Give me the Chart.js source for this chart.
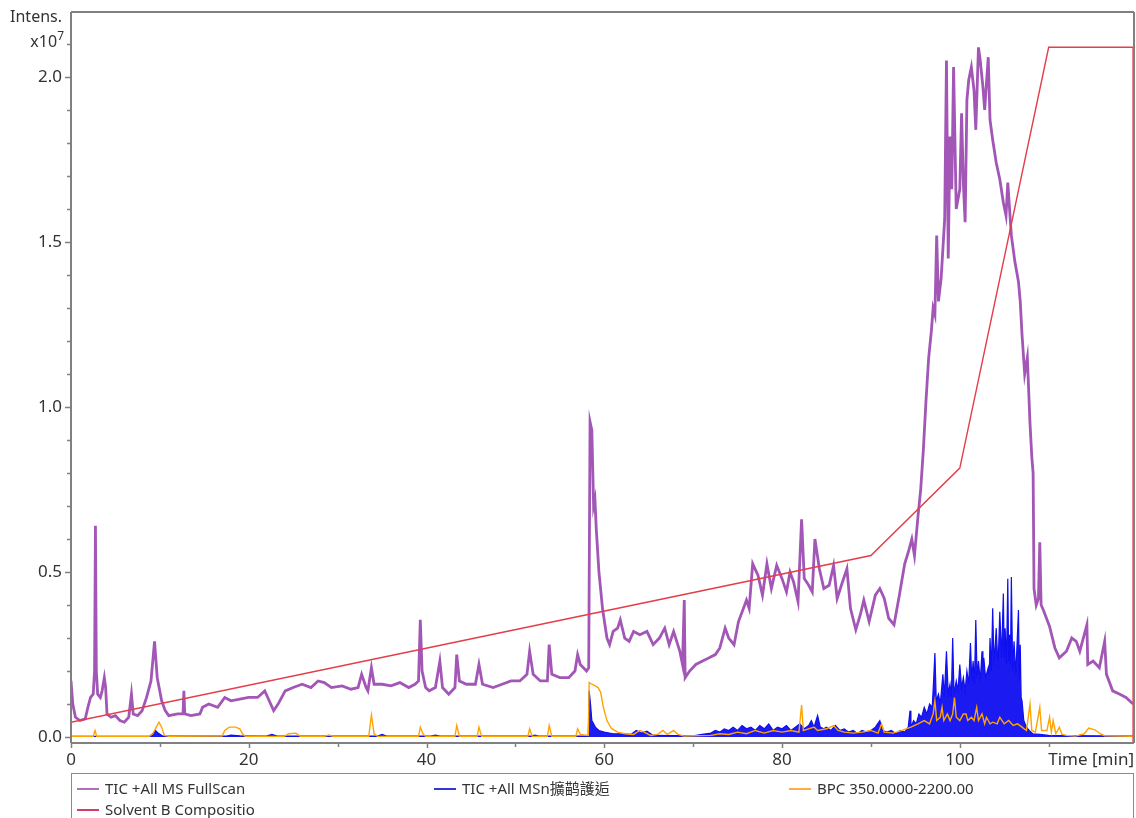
<!DOCTYPE html>
<html><head><meta charset="utf-8">
<script src="https://cdn.jsdelivr.net/npm/chart.js@4.4.1/dist/chart.umd.min.js"></script>
<style>
html,body{margin:0;padding:0;background:#fff;}
#wrap{position:relative;width:1136px;height:818px;overflow:hidden;font-family:"Noto Sans",sans-serif;color:#333;}
#c{position:absolute;left:0;top:0;}
.lbl{position:absolute;font-size:16px;line-height:18px;color:#333;white-space:nowrap;}
#legend{position:absolute;left:71px;top:773px;width:1063px;height:60px;border:1px solid #8a8a8a;box-sizing:border-box;}
.item{position:absolute;font-size:15px;line-height:18px;white-space:nowrap;color:#333;}
.item i{display:inline-block;width:22px;height:0;border-top:2px solid;vertical-align:middle;margin-right:6px;position:relative;top:-1px;}
.cjk{font-family:"Noto Sans CJK TC","Noto Sans CJK SC",sans-serif;}
</style></head>
<body>
<div id="wrap">
<canvas id="c" width="1136" height="818"></canvas>
<div class="lbl" style="left:0;width:62px;text-align:right;top:7px;">Intens.</div>
<div class="lbl" style="left:0;width:64px;text-align:right;top:32px;">x10<sup style="font-size:12px;vertical-align:7px;line-height:0;">7</sup></div>
<div class="lbl" style="right:2px;top:750px;font-size:17px;">Time [min]</div>
<div id="legend"></div>
</div>
<script>
// ---- data (time in min, intensity in x10^7) ----
const xTickLabels = [0, 20, 40, 60, 80, 100];
const xMinorTicks = [10, 30, 50, 70, 90, 110];
const yTickLabels = [0.0, 0.5, 1.0, 1.5, 2.0];
const yMinorTicks = [0.1,0.2,0.3,0.4,0.6,0.7,0.8,0.9,1.1,1.2,1.3,1.4,1.6,1.7,1.8,1.9,2.1];

const seriesNames = ["TIC +All MS FullScan", "TIC +All MSn擴鹋護逅", "BPC 350.0000-2200.00", "Solvent B Compositio"];

const solventB = [[0,0.045],[90,0.55],[100,0.815],[110,2.09],[119.5,2.09],[119.5,-0.02]];

const ticFullScan = [[0,0.17],[0.2,0.10],[0.5,0.06],[1.0,0.05],[1.6,0.055],[1.9,0.09],[2.2,0.12],[2.5,0.13],[2.65,0.2],[2.75,0.64],[2.85,0.2],[3.0,0.13],[3.3,0.12],[3.5,0.14],[3.75,0.18],[3.9,0.15],[4.05,0.07],[4.5,0.06],[5.0,0.065],[5.5,0.05],[6.0,0.045],[6.5,0.06],[6.8,0.13],[7.0,0.07],[7.5,0.065],[8.0,0.08],[8.5,0.12],[9.0,0.17],[9.4,0.29],[9.7,0.18],[10.2,0.11],[10.6,0.08],[11.0,0.065],[12.0,0.07],[12.6,0.07],[12.7,0.14],[12.8,0.07],[13.5,0.065],[14.5,0.07],[14.8,0.09],[15.5,0.1],[16.5,0.09],[17.3,0.12],[18.0,0.11],[19.0,0.115],[20.0,0.12],[21.0,0.12],[21.8,0.14],[22.3,0.11],[22.8,0.08],[23.3,0.1],[24.1,0.14],[25.0,0.15],[26.0,0.16],[27.0,0.15],[27.8,0.17],[28.5,0.165],[29.3,0.15],[30.5,0.155],[31.5,0.145],[32.3,0.15],[32.7,0.19],[33.2,0.15],[33.4,0.14],[33.8,0.21],[34.1,0.16],[35,0.16],[36,0.155],[37,0.165],[38,0.15],[38.7,0.16],[39.1,0.17],[39.3,0.355],[39.5,0.2],[39.9,0.15],[40.3,0.14],[41.0,0.15],[41.5,0.23],[41.8,0.15],[42.5,0.13],[43.2,0.15],[43.4,0.25],[43.7,0.17],[44.5,0.16],[45.5,0.16],[45.9,0.22],[46.3,0.16],[47.5,0.15],[48.5,0.16],[49.5,0.17],[50.5,0.17],[51.3,0.19],[51.6,0.26],[52.0,0.19],[52.8,0.17],[53.6,0.17],[53.8,0.28],[54.1,0.19],[55,0.18],[56,0.18],[56.7,0.2],[57.0,0.25],[57.3,0.22],[58.0,0.2],[58.25,0.21],[58.4,0.955],[58.6,0.93],[58.8,0.7],[58.95,0.72],[59.1,0.63],[59.4,0.5],[59.8,0.39],[60.3,0.3],[60.6,0.28],[61.0,0.32],[61.5,0.33],[61.8,0.355],[62.3,0.3],[62.8,0.29],[63.3,0.32],[64.0,0.31],[64.8,0.32],[65.5,0.28],[66.2,0.3],[66.8,0.33],[67.3,0.28],[67.8,0.32],[68.5,0.26],[68.8,0.22],[69.0,0.415],[69.1,0.18],[69.6,0.2],[70.3,0.22],[71.0,0.23],[71.8,0.24],[72.5,0.25],[73.0,0.27],[73.6,0.33],[74.0,0.3],[74.6,0.28],[75.1,0.35],[75.8,0.4],[76.0,0.415],[76.3,0.39],[76.7,0.525],[77.3,0.49],[77.8,0.43],[78.3,0.525],[78.8,0.45],[79.4,0.52],[80.0,0.48],[80.5,0.44],[80.9,0.5],[81.3,0.47],[81.8,0.41],[82.2,0.66],[82.5,0.48],[83.0,0.46],[83.4,0.44],[83.7,0.6],[84.2,0.51],[84.7,0.45],[85.3,0.46],[85.8,0.52],[86.2,0.42],[86.8,0.47],[87.3,0.51],[87.7,0.39],[88.3,0.325],[88.8,0.37],[89.2,0.415],[89.8,0.35],[90.5,0.43],[91.0,0.45],[91.5,0.42],[92.0,0.36],[92.6,0.34],[93.2,0.43],[93.8,0.525],[94.2,0.56],[94.6,0.6],[94.9,0.55],[95.3,0.67],[95.6,0.75],[95.9,0.87],[96.2,1.02],[96.5,1.15],[96.8,1.23],[97.0,1.3],[97.2,1.28],[97.4,1.52],[97.6,1.32],[97.9,1.39],[98.3,1.57],[98.5,2.05],[98.7,1.45],[98.9,1.82],[99.1,1.66],[99.3,2.03],[99.6,1.6],[100.0,1.66],[100.2,1.89],[100.4,1.68],[100.6,1.56],[100.8,1.93],[101.0,1.99],[101.3,2.03],[101.6,1.96],[101.8,1.84],[102.1,2.09],[102.3,2.05],[102.6,1.97],[102.8,1.9],[103.2,2.06],[103.4,1.87],[103.7,1.81],[104.1,1.74],[104.5,1.69],[104.9,1.62],[105.2,1.58],[105.4,1.68],[105.8,1.52],[106.2,1.44],[106.6,1.38],[106.8,1.32],[107.0,1.22],[107.3,1.1],[107.6,1.15],[107.9,0.95],[108.1,0.85],[108.25,0.8],[108.35,0.45],[108.6,0.4],[108.85,0.42],[109.0,0.59],[109.15,0.4],[109.4,0.385],[110.1,0.335],[110.7,0.27],[111.2,0.24],[112.0,0.26],[112.6,0.3],[113.1,0.29],[113.5,0.26],[114.3,0.34],[114.4,0.22],[115.0,0.23],[115.7,0.21],[116.3,0.29],[116.5,0.19],[117.2,0.14],[118.0,0.13],[118.7,0.12],[119.5,0.1]];

const ticMSn = [[0,0.002],[8.8,0.002],[9.2,0.01],[9.5,0.02],[9.8,0.012],[10.3,0.003],[17.5,0.003],[18.0,0.006],[19.0,0.004],[22.0,0.003],[22.6,0.008],[23.2,0.003],[34.5,0.003],[35.0,0.008],[35.5,0.003],[40.5,0.003],[41.0,0.006],[41.5,0.003],[51.8,0.003],[52.2,0.006],[52.6,0.003],[58.2,0.003],[58.3,0.14],[58.45,0.1],[58.6,0.05],[58.8,0.04],[59.0,0.03],[59.4,0.02],[60.0,0.015],[61.0,0.01],[62.0,0.01],[63.0,0.008],[63.6,0.02],[64.2,0.012],[64.8,0.018],[65.5,0.005],[70.0,0.004],[71.0,0.008],[72.0,0.012],[72.5,0.02],[73.0,0.015],[73.5,0.025],[74.0,0.02],[74.5,0.03],[75.0,0.02],[75.5,0.035],[76.0,0.025],[76.5,0.03],[77.0,0.02],[77.5,0.035],[78.0,0.025],[78.5,0.04],[79.0,0.02],[79.5,0.03],[80.0,0.025],[80.5,0.035],[81.0,0.02],[81.5,0.03],[82.0,0.04],[82.5,0.025],[83.0,0.035],[83.3,0.05],[83.6,0.03],[84.0,0.065],[84.3,0.03],[84.7,0.025],[85.0,0.03],[85.5,0.02],[86.0,0.035],[86.5,0.02],[87.0,0.025],[87.5,0.015],[88.0,0.02],[88.5,0.01],[89.0,0.02],[89.5,0.015],[90.0,0.02],[90.5,0.03],[91.0,0.05],[91.3,0.02],[91.8,0.015],[92.3,0.02],[92.8,0.01],[93.3,0.02],[93.8,0.015],[94.2,0.03],[94.4,0.08],[94.5,0.03],[94.8,0.05],[95.1,0.04],[95.4,0.07],[95.7,0.06],[96.0,0.09],[96.3,0.07],[96.6,0.10],[96.9,0.09],[97.05,0.17],[97.2,0.255],[97.35,0.11],[97.6,0.13],[97.8,0.10],[98.1,0.19],[98.25,0.12],[98.5,0.26],[98.7,0.13],[98.9,0.16],[99.05,0.12],[99.2,0.30],[99.35,0.13],[99.6,0.17],[99.8,0.14],[100.0,0.22],[100.2,0.15],[100.4,0.18],[100.6,0.14],[100.8,0.20],[101.0,0.16],[101.2,0.285],[101.35,0.17],[101.5,0.23],[101.65,0.16],[101.8,0.355],[101.95,0.18],[102.1,0.23],[102.3,0.17],[102.5,0.26],[102.6,0.19],[102.7,0.24],[102.9,0.18],[103.2,0.21],[103.3,0.17],[103.4,0.30],[103.55,0.20],[103.7,0.39],[103.85,0.22],[104.1,0.33],[104.3,0.21],[104.5,0.38],[104.7,0.24],[104.9,0.435],[105.0,0.24],[105.1,0.33],[105.25,0.22],[105.4,0.48],[105.5,0.23],[105.6,0.31],[105.7,0.22],[105.8,0.485],[105.95,0.20],[106.1,0.29],[106.3,0.19],[106.6,0.385],[106.7,0.17],[106.8,0.28],[106.9,0.12],[107.0,0.11],[107.2,0.05],[107.5,0.03],[107.8,0.02],[108.2,0.01],[109.0,0.008],[110.0,0.005],[115.0,0.004],[119.5,0.003]];

const bpc = [[0,0.002],[2.5,0.002],[2.7,0.02],[2.9,0.002],[8.8,0.002],[9.2,0.01],[9.6,0.03],[9.9,0.045],[10.2,0.03],[10.5,0.005],[11.0,0.002],[17.0,0.003],[17.3,0.02],[17.8,0.03],[18.5,0.03],[19.0,0.025],[19.3,0.01],[19.6,0.002],[24.0,0.002],[24.5,0.01],[25.3,0.012],[25.8,0.002],[28.5,0.002],[29.0,0.006],[29.5,0.002],[33.5,0.002],[33.8,0.067],[34.1,0.01],[34.5,0.002],[39.1,0.002],[39.3,0.03],[39.6,0.01],[39.9,0.002],[43.2,0.002],[43.4,0.035],[43.7,0.002],[45.7,0.002],[45.9,0.03],[46.2,0.002],[51.4,0.002],[51.6,0.025],[51.9,0.002],[53.6,0.002],[53.8,0.035],[54.1,0.002],[56.8,0.002],[57.0,0.025],[57.3,0.008],[58.2,0.005],[58.3,0.165],[58.6,0.16],[59.0,0.155],[59.3,0.15],[59.6,0.135],[59.9,0.09],[60.3,0.05],[60.8,0.026],[61.5,0.015],[62.3,0.01],[63.3,0.008],[64.0,0.02],[64.5,0.015],[65.2,0.005],[66.0,0.008],[66.6,0.02],[67.1,0.008],[67.8,0.02],[68.3,0.008],[69.0,0.003],[72.0,0.005],[73.0,0.01],[74.0,0.008],[75.0,0.015],[76.0,0.01],[77.0,0.02],[78.0,0.012],[79.0,0.02],[80.0,0.015],[81.0,0.02],[81.9,0.015],[82.2,0.097],[82.4,0.02],[83.0,0.025],[83.6,0.03],[84.0,0.02],[85.0,0.025],[85.8,0.035],[86.3,0.02],[87.0,0.015],[88.0,0.012],[89.0,0.015],[90.0,0.02],[90.8,0.012],[91.2,0.04],[91.5,0.015],[92.5,0.012],[93.5,0.02],[94.5,0.03],[95.3,0.04],[96.0,0.05],[96.6,0.04],[97.0,0.07],[97.2,0.11],[97.4,0.05],[97.8,0.06],[98.0,0.09],[98.2,0.05],[98.6,0.07],[98.9,0.05],[99.2,0.07],[99.4,0.12],[99.6,0.06],[100.0,0.05],[100.4,0.07],[100.7,0.07],[100.9,0.05],[101.3,0.06],[101.6,0.05],[101.9,0.09],[102.1,0.05],[102.5,0.07],[102.8,0.04],[103.0,0.06],[103.4,0.04],[103.7,0.045],[104.2,0.04],[104.5,0.06],[105.0,0.04],[105.5,0.05],[106.0,0.035],[106.5,0.04],[107.0,0.03],[107.5,0.02],[107.9,0.10],[108.1,0.02],[108.5,0.015],[109.0,0.09],[109.2,0.02],[109.8,0.02],[110.1,0.06],[110.3,0.015],[110.5,0.05],[110.8,0.01],[111.2,0.03],[111.5,0.008],[112.0,0.005],[113.0,0.003],[114.0,0.01],[114.5,0.027],[115.2,0.022],[115.8,0.01],[116.3,0.004],[119.5,0.002]];

const colors = {tic:'#a256b6', msn:'#0f0ff0', bpc:'#ffa300', solvent:'#e33e4a'};

// ---- legend (HTML) ----
const legendLayout = [
  {name:seriesNames[0], color:'#b070b8', left:5, top:5},
  {name:seriesNames[1], color:'#3535d8', left:362, top:5},
  {name:seriesNames[2], color:'#ffad45', left:717, top:5},
  {name:seriesNames[3], color:'#d83a66', left:5, top:26}
];
const lg = document.getElementById('legend');
legendLayout.forEach(it => {
  const d = document.createElement('div');
  d.className = 'item';
  d.style.left = it.left + 'px'; d.style.top = it.top + 'px';
  const i = document.createElement('i'); i.style.borderTopColor = it.color;
  d.appendChild(i);
  const m = it.name.match(/^([^\u3400-\u9fff]*)([\u3400-\u9fff]*)$/);
  d.appendChild(document.createTextNode(m ? m[1] : it.name));
  if (m && m[2]) { const s = document.createElement('span'); s.className='cjk'; s.textContent = m[2]; d.appendChild(s); }
  lg.appendChild(d);
});

// ---- chart ----
const toXY = arr => arr.map(p => ({x:p[0], y:p[1]}));

const framePlugin = {
  id:'frame',
  afterDraw(chart){
    const {ctx, chartArea:a, scales:{x, y}} = chart;
    ctx.save();
    ctx.strokeStyle = '#808080';
    ctx.lineWidth = 2;
    ctx.beginPath();
    ctx.moveTo(a.left, a.top); ctx.lineTo(a.right, a.top);
    ctx.moveTo(a.right, a.top); ctx.lineTo(a.right, a.bottom);
    ctx.moveTo(a.left, a.top); ctx.lineTo(a.left, a.bottom);
    ctx.moveTo(a.left, a.bottom); ctx.lineTo(a.right, a.bottom);
    ctx.stroke();
    ctx.lineWidth = 1.5;
    ctx.beginPath();
    yTickLabels.forEach(v => { const py = Math.round(y.getPixelForValue(v)) + 0.5; ctx.moveTo(a.left - 6, py); ctx.lineTo(a.left, py); });
    yMinorTicks.forEach(v => { const py = Math.round(y.getPixelForValue(v)) + 0.5; ctx.moveTo(a.left - 4, py); ctx.lineTo(a.left, py); });
    xTickLabels.forEach(v => { const px = Math.round(x.getPixelForValue(v)) + 0.5; ctx.moveTo(px, a.bottom); ctx.lineTo(px, a.bottom + 5); });
    xMinorTicks.forEach(v => { const px = Math.round(x.getPixelForValue(v)) + 0.5; ctx.moveTo(px, a.bottom); ctx.lineTo(px, a.bottom + 4); });
    ctx.stroke();
    ctx.restore();
  }
};

new Chart(document.getElementById('c'), {
  type:'line',
  data:{datasets:[
    {label:seriesNames[3], data:toXY(solventB), borderColor:colors.solvent, borderWidth:1.4, order:0},
    {label:seriesNames[0], data:toXY(ticFullScan), borderColor:colors.tic, borderWidth:2.8, order:1},
    {label:seriesNames[2], data:toXY(bpc), borderColor:colors.bpc, borderWidth:1.4, order:2},
    {label:seriesNames[1], data:toXY(ticMSn), borderColor:colors.msn, backgroundColor:'rgba(15,15,240,0.95)', fill:'origin', borderWidth:1.2, order:3}
  ]},
  options:{
    responsive:false, animation:false, devicePixelRatio:1,
    elements:{point:{radius:0, hoverRadius:0}, line:{tension:0}},
    layout:{padding:{left:0, top:12, right:2, bottom:45}},
    plugins:{legend:{display:false}, tooltip:{enabled:false}},
    events:[],
    scales:{
      x:{type:'linear', min:0, max:119.6,
        grid:{display:false, drawTicks:false}, border:{display:false},
        afterBuildTicks: s => { s.ticks = xTickLabels.map(v => ({value:v})); },
        afterFit: s => { s.height = 30; s.paddingLeft = 0; s.paddingRight = 0; },
        ticks:{padding:7, color:'#333', font:{family:'Noto Sans', size:17}, maxRotation:0, autoSkip:false, callback: v => String(v)}
      },
      y:{type:'linear', min:-0.018, max:2.197,
        grid:{display:false, drawTicks:false}, border:{display:false},
        afterBuildTicks: s => { s.ticks = yTickLabels.map(v => ({value:v})); },
        afterFit: s => { s.width = 71; s.paddingTop = 0; s.paddingBottom = 0; },
        ticks:{padding:9, color:'#333', font:{family:'Noto Sans', size:17}, autoSkip:false, callback: v => Number(v).toFixed(1)}
      }
    }
  },
  plugins:[framePlugin]
});
</script>
</body></html>
